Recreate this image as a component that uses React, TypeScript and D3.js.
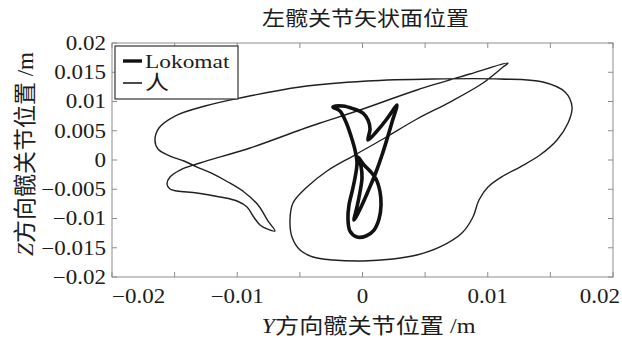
import React, { useEffect, useRef } from 'react';
import * as d3 from 'd3';

const title = '左髋关节矢状面位置';
const xLabelLatin = 'Y';
const xLabelRest = '方向髋关节位置 /m';
const yLabelLatin = 'Z';
const yLabelRest = '方向髋关节位置 /m';
const seriesNames = ['Lokomat', '人'];

const xTickValues = [-0.02, -0.015, -0.01, -0.005, 0, 0.005, 0.01, 0.015, 0.02];
const xLabelValues = [-0.02, -0.01, 0, 0.01, 0.02];
const xLabelTexts = ['\u22120.02', '\u22120.01', '0', '0.01', '0.02'];
const yTickValues = [0.02, 0.015, 0.01, 0.005, 0, -0.005, -0.01, -0.015, -0.02];
const yLabelTexts = ['0.02', '0.015', '0.01', '0.005', '0', '\u22120.005', '\u22120.01', '\u22120.015', '\u22120.02'];

// human hip trajectory (Y, Z in m)
const humanY = [
  0.01162, 0.00858, 0.00435, -0.0002, -0.00339, -0.00499, -0.00898, -0.01297, -0.01457, -0.01537,
  -0.01561, -0.01537, -0.01481, -0.01321, -0.01138, -0.01002, -0.00922, -0.00874, -0.00818, -0.00762,
  -0.00699, -0.00754, -0.00834, -0.00946, -0.01074, -0.0121, -0.01321, -0.01425, -0.01537, -0.01633,
  -0.01657, -0.01625, -0.01497, -0.01257, -0.00978, -0.00499, 0.00036, 0.00563, 0.01098, 0.01441,
  0.01617, 0.01673, 0.01641, 0.01553, 0.01417, 0.01257, 0.01122, 0.01002, 0.0093, 0.00882,
  0.00794, 0.00619, 0.00435, 0.00244, 0.00004, -0.00236, -0.00395, -0.00499, -0.00563, -0.00579,
  -0.00555, -0.00443, -0.00283, -0.00076, 0.00164, 0.00435, 0.00699, 0.00962, 0.01122,
];
const humanZ = [
  0.01658, 0.0147, 0.01197, 0.00855, 0.00632, 0.00513, 0.00205, -0.00051, -0.00171, -0.00291,
  -0.0041, -0.00496, -0.0053, -0.00564, -0.00632, -0.00701, -0.00803, -0.00957, -0.01111, -0.01179,
  -0.01214, -0.01043, -0.00769, -0.00547, -0.00376, -0.00222, -0.0012, -0.00017, 0.00068, 0.00188,
  0.00342, 0.00547, 0.00752, 0.00923, 0.0106, 0.01248, 0.0135, 0.01385, 0.01385, 0.01333,
  0.01162, 0.00906, 0.00632, 0.00342, 0.00085, -0.0012, -0.00274, -0.00462, -0.00684, -0.00974,
  -0.01248, -0.01487, -0.01624, -0.01692, -0.01726, -0.01709, -0.01658, -0.01538, -0.01316, -0.01026,
  -0.00735, -0.00462, -0.00188, 0.00068, 0.00359, 0.00701, 0.00991, 0.01316, 0.0159,
];

// Lokomat hip trajectory (Y, Z in m)
const lokomatY = [
  -0.00236, -0.00156, -0.00068, 0.00004, 0.00044, 0.0006, 0.00044, 0.00116, 0.00188, 0.00244,
  0.00275, 0.00236, 0.00196, 0.00156, 0.00108, 0.00052, -0.00004, -0.00052, -0.00068, -0.00044,
  -0.0002, -0.00004, -0.00012, -0.00036, 0.00012, 0.0006, 0.00108, 0.0014, 0.00148, 0.00132,
  0.00092, 0.00028, -0.00044, -0.001, -0.00116, -0.00108, -0.00084, -0.0006, -0.00044, -0.0006,
  -0.00092, -0.00132, -0.0018,
];
const lokomatZ = [
  0.00906, 0.00923, 0.00872, 0.00803, 0.00684, 0.00530, 0.00342, 0.00496, 0.00684, 0.00855,
  0.0094, 0.0065, 0.00359, 0.00085, -0.00205, -0.00496, -0.00769, -0.00974, -0.01026, -0.00803,
  -0.00547, -0.00308, -0.00103, 0.00051, -0.00085, -0.00188, -0.00325, -0.00547, -0.00769, -0.01009,
  -0.01197, -0.01299, -0.01316, -0.01214, -0.01009, -0.00769, -0.00547, -0.00308, -0.00051, 0.00171,
  0.0041, 0.0065, 0.00838,
];

const W = 622;
const H = 339;
const serif = '"Liberation Serif", "Times New Roman", "Noto Sans CJK SC", serif';
const ink = '#1c1c1c';
const axisGray = '#8c8c8c';

const Chart: React.FC = () => {
  const ref = useRef<SVGSVGElement | null>(null);

  useEffect(() => {
    if (!ref.current) return;
    const svg = d3.select(ref.current);
    svg.selectAll('*').remove();

    const margin = { top: 43, right: 9, bottom: 62, left: 112 };
    const x = d3.scaleLinear().domain([-0.02, 0.02]).range([margin.left, W - margin.right]);
    const y = d3.scaleLinear().domain([-0.02, 0.02]).range([H - margin.bottom, margin.top]);
    const [x0, x1] = x.range();
    const [y0, y1] = y.range();

    svg.append('rect').attr('width', W).attr('height', H).attr('fill', '#fff');

    // axes box
    svg.append('rect')
      .attr('x', x0).attr('y', y1)
      .attr('width', x1 - x0).attr('height', y0 - y1)
      .attr('fill', 'none').attr('stroke', axisGray).attr('stroke-width', 1);

    const tickLen = 5;
    const ticks = svg.append('g').attr('stroke', axisGray).attr('stroke-width', 1);
    xTickValues.forEach(v => {
      ticks.append('line').attr('x1', x(v)).attr('x2', x(v)).attr('y1', y0).attr('y2', y0 - tickLen);
      ticks.append('line').attr('x1', x(v)).attr('x2', x(v)).attr('y1', y1).attr('y2', y1 + tickLen);
    });
    yTickValues.forEach(v => {
      ticks.append('line').attr('x1', x0).attr('x2', x0 + tickLen).attr('y1', y(v)).attr('y2', y(v));
      ticks.append('line').attr('x1', x1).attr('x2', x1 - tickLen).attr('y1', y(v)).attr('y2', y(v));
    });

    const sx = 1.15;

    // y tick labels
    yTickValues.forEach((v, i) => {
      svg.append('text')
        .attr('transform', `translate(${x0 - 6},${y(v)}) scale(${sx},1)`)
        .attr('text-anchor', 'end')
        .attr('dy', '0.34em')
        .attr('font-family', serif).attr('font-size', 20).attr('fill', ink)
        .text(yLabelTexts[i]);
    });

    // x tick labels
    xLabelValues.forEach((v, i) => {
      const last = i === xLabelValues.length - 1;
      const first = i === 0;
      const px = last ? x(v) + 7 : x(v);
      svg.append('text')
        .attr('transform', `translate(${px},303) scale(${sx},1)`)
        .attr('text-anchor', first ? 'start' : last ? 'end' : 'middle')
        .attr('font-family', serif).attr('font-size', 20).attr('fill', ink)
        .text(xLabelTexts[i]);
    });

    // title
    svg.append('text')
      .attr('transform', `translate(${(x0 + x1) / 2 + 3},26) scale(${sx},1)`)
      .attr('text-anchor', 'middle')
      .attr('font-family', serif).attr('font-size', 20).attr('fill', ink)
      .text(title);

    // x label
    const xl = svg.append('text')
      .attr('transform', `translate(${(x0 + x1) / 2 + 6},333) scale(${sx},1)`)
      .attr('text-anchor', 'middle')
      .attr('font-family', serif).attr('font-size', 21).attr('fill', ink);
    xl.append('tspan').attr('font-style', 'italic').text(xLabelLatin);
    xl.append('tspan').text(xLabelRest);

    // y label
    const yl = svg.append('text')
      .attr('transform', `translate(33,${(y0 + y1) / 2 - 6}) rotate(-90)`)
      .attr('text-anchor', 'middle')
      .attr('font-family', serif).attr('font-size', 23).attr('fill', ink);
    yl.append('tspan').attr('font-style', 'italic').text(yLabelLatin);
    yl.append('tspan').text(yLabelRest);

    // curves
    const human = humanY.map((v, i) => [v, humanZ[i]] as [number, number]);
    const lokomat = lokomatY.map((v, i) => [v, lokomatZ[i]] as [number, number]);
    const line = d3.line<[number, number]>()
      .x(d => x(d[0]))
      .y(d => y(d[1]))
      .curve(d3.curveCatmullRomClosed.alpha(0.5));

    svg.append('path').datum(human)
      .attr('d', line)
      .attr('fill', 'none').attr('stroke', '#202020').attr('stroke-width', 1.4)
      .attr('stroke-linejoin', 'round');

    svg.append('path').datum(lokomat)
      .attr('d', line)
      .attr('fill', 'none').attr('stroke', '#111').attr('stroke-width', 3.6)
      .attr('stroke-linejoin', 'round').attr('stroke-linecap', 'round');

    // legend
    const lg = svg.append('g');
    lg.append('rect')
      .attr('x', x0 + 3).attr('y', y1 + 3).attr('width', 123).attr('height', 53)
      .attr('fill', '#fff').attr('stroke', '#333').attr('stroke-width', 1.2);
    const rows = [
      { name: seriesNames[0], ly: 61, w: 3.4, size: 19.5 },
      { name: seriesNames[1], ly: 83, w: 1.5, size: 20 },
    ];
    rows.forEach(r => {
      lg.append('line')
        .attr('x1', x0 + 11).attr('x2', x0 + 30).attr('y1', r.ly).attr('y2', r.ly)
        .attr('stroke', '#111').attr('stroke-width', r.w);
      lg.append('text')
        .attr('transform', `translate(${x0 + 33},${r.ly + 7}) scale(1.2,1)`)
        .attr('font-family', serif).attr('font-size', r.size).attr('fill', ink)
        .text(r.name);
    });
  }, []);

  return (
    <svg
      ref={ref}
      width={W}
      height={H}
      style={{ position: 'absolute', left: 0, top: 0, display: 'block' }}
    />
  );
};

export default function App() {
  return <Chart />;
}
